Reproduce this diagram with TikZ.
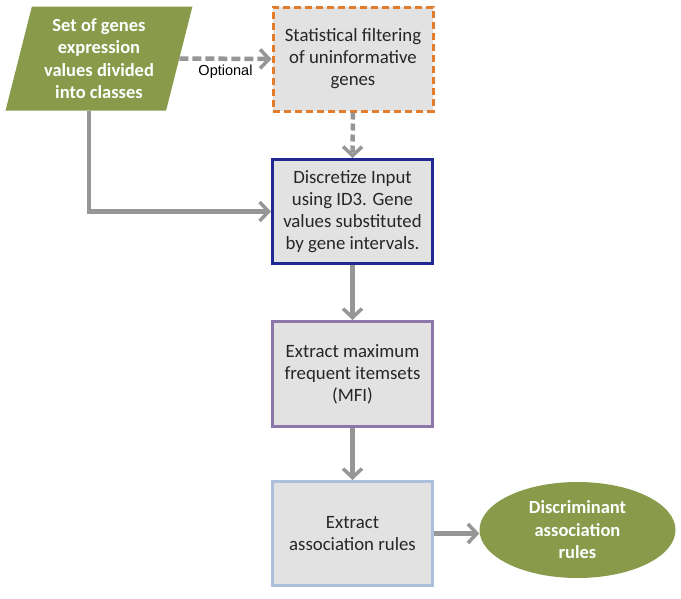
\documentclass[tikz,border=0pt]{standalone}
\usepackage{fontspec}
\setmainfont{Carlito}
\newfontfamily\arialfont{Liberation Sans}
\usetikzlibrary{shapes.geometric,arrows.meta,positioning}
\definecolor{olive}{RGB}{137,154,75}
\definecolor{boxfill}{RGB}{226,226,226}
\definecolor{arrowgray}{RGB}{150,150,150}
\definecolor{orangeb}{RGB}{226,125,45}
\definecolor{blueb}{RGB}{32,40,145}
\definecolor{purpleb}{RGB}{140,118,170}
\definecolor{lblueb}{RGB}{172,192,222}
\tikzset{
  procbox/.style={rectangle, fill=boxfill, line width=3pt, minimum width=160pt, align=center, font=\fontsize{18.8}{22}\selectfont, text=black!85},
  greentxt/.style={fill=olive, text=white, align=center, font=\fontsize{18.5}{22.5}\selectfont\bfseries},
  flow/.style={draw=arrowgray, line width=4.5pt, -{Straight Barb[length=9pt,width=19pt,line width=3.5pt]}},
}
\begin{document}
\begin{tikzpicture}[x=1pt,y=-1pt]
\useasboundingbox (0,0) rectangle (681,598);
\node[greentxt, trapezium, trapezium left angle=75, trapezium right angle=105, trapezium stretches=true, minimum width=187pt, minimum height=104pt, inner sep=0pt] (src) at (99,58.5) {Set of genes\\expression\\values divided\\into classes};
\node[procbox, draw=orangeb, dashed, dash pattern=on 7pt off 4pt, minimum height=104pt] (filt) at (353,59) {Statistical filtering\\of uninformative\\genes};
\node[procbox, draw=blueb, minimum height=104pt] (disc) at (352.5,211.5) {Discretize Input\\using ID3. Gene\\values substituted\\by gene intervals.};
\node[procbox, draw=purpleb, minimum height=105pt] (mfi) at (352.5,374) {Extract maximum\\frequent itemsets\\(MFI)};
\node[procbox, draw=lblueb, minimum height=104pt] (rules) at (352.5,533.5) {Extract\\association rules};
\node[greentxt, ellipse, minimum width=196pt, minimum height=96pt, inner sep=0pt] (out) at (577.5,530) {Discriminant\\association\\rules};
\draw[flow, dash pattern=on 9pt off 4pt] (src.east) -- node[below=1pt, font=\arialfont\fontsize{14.5}{16}\selectfont, text=black] (opt) {Optional} (filt.west);
\draw[flow, dash pattern=on 7pt off 4pt] (filt.south) -- (disc.north);
\draw[flow] ([xshift=-10pt]src.south) |- (disc.west);
\draw[flow] (disc.south) -- (mfi.north);
\draw[flow] (mfi.south) -- (rules.north);
\draw[flow] (rules.east) -- (rules.east -| out.west);
\end{tikzpicture}
\end{document}
